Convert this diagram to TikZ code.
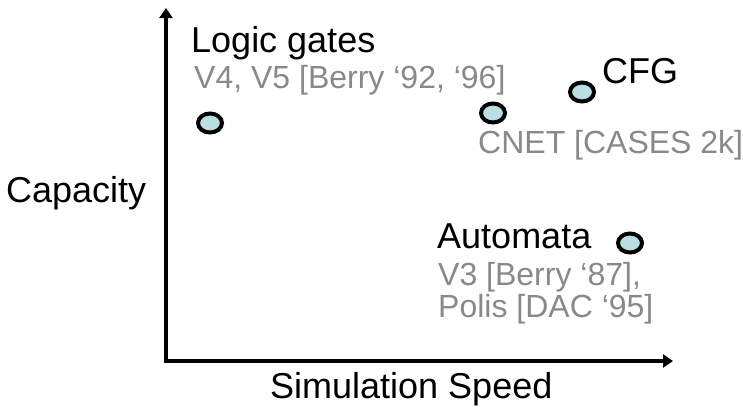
\documentclass[tikz,border=0pt]{standalone}
\usepackage{fontspec}
\setmainfont{Liberation Sans}
\usepackage{tikz}
\usetikzlibrary{arrows.meta,shapes.geometric}
\definecolor{dotfill}{HTML}{BADFE2}
\definecolor{refgray}{HTML}{898989}
\definecolor{ink}{HTML}{000000}

\begin{document}
\begin{tikzpicture}[x=1pt,y=-1pt,
  label/.style={inner sep=0,anchor=base west,ink,font=\fontsize{36}{38}\selectfont},
  cite/.style={inner sep=0,anchor=base west,refgray,font=\fontsize{32}{32}\selectfont},
  spot/.style={ellipse,draw=ink,fill=dotfill,line width=4pt,minimum width=24pt,minimum height=19pt,inner sep=0}]
  \useasboundingbox (0,0) rectangle (743,415);
  % axes
  \coordinate (ytop) at (166,8);
  \coordinate (origin) at (166,361);
  \coordinate (xend) at (673,361);
  \draw[line width=4pt,{Triangle[length=10pt,width=13pt]}-{Triangle[length=10pt,width=13pt]}](ytop)--(origin)--(xend);
  \node[label] (capacity) at (6,202) {Capacity};
  \node[label] (speed) at (270,398) {Simulation Speed};
  % points
  \node[spot] (logic) at (210,123) {};
  \node[spot] (cnet) at (493,113) {};
  \node[spot] (cfg) at (582,92) {};
  \node[spot] (auto) at (630,243) {};
  \node[label] (logiclbl) at (191,52) {Logic gates};
  \node[cite] (logiccite) at (194,88) {V4, V5 [Berry ‘92, ‘96]};
  \node[label] (cfglbl) at (602,83) {CFG};
  \node[cite] (cnetcite) at (478,153) {CNET [CASES 2k]};
  \node[label] (autolbl) at (437,248) {Automata};
  \node[cite] (v3cite) at (438,285) {V3 [Berry ‘87],};
  \node[cite] (poliscite) at ([yshift=-32pt]v3cite.base west) {Polis [DAC ‘95]};
\end{tikzpicture}
\end{document}
